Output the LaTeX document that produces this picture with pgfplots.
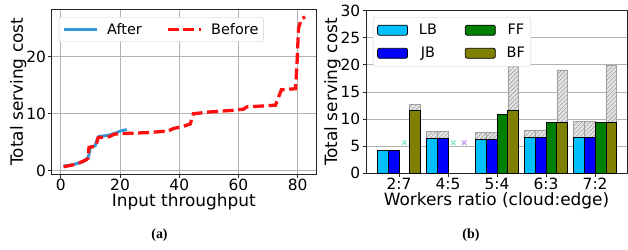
\documentclass[border=0pt]{standalone}
\usepackage{fontspec}
\setmainfont{DejaVu Sans}
\newfontfamily\capfont{Liberation Serif}
\usepackage{pgfplots}
\pgfplotsset{compat=1.18}
\usetikzlibrary{patterns,patterns.meta}
\definecolor{afterblue}{HTML}{3498DB}
\definecolor{beforered}{HTML}{FF1010}
\definecolor{cLB}{HTML}{00BFFF}
\definecolor{cJB}{HTML}{0000FF}
\definecolor{cFF}{HTML}{008000}
\definecolor{cBF}{HTML}{808000}
\definecolor{hatchbg}{HTML}{E4E4E4}
\definecolor{hatchln}{HTML}{A0A0A0}
\definecolor{xgreen}{HTML}{8EEBC0}
\definecolor{xpurple}{HTML}{C29CF0}
\newcommand{\tickfont}{\fontsize{15.5}{18}\selectfont}
\newcommand{\labfont}{\fontsize{17}{20}\selectfont}
\newcommand{\legfont}{\fontsize{14.5}{17}\selectfont}
\pgfplotsset{
  common/.style={
    scale only axis,
    anchor=south west,
    axis line style={black!85, line width=0.8bp},
    tick align=outside,
    tick pos=left,
    major tick length=3.5bp,
    every tick/.style={black!85, line width=0.8bp},
    tick label style={font=\tickfont, inner sep=2bp},
    xticklabel style={inner ysep=1bp},
    label style={font=\labfont, inner sep=0.5bp},
    /pgf/number format/assume math mode=true,
    major grid style={gray!60, line width=0.8bp},
  },
  barlegend/.style={legend image code/.code={\draw[##1,/tikz/.cd] (0bp,-5bp) rectangle (30bp,5bp);}},
  hatchbar/.style={ybar, bar width=0.22, bar shift=#1, fill=hatchbg, draw=hatchln, line width=0.6bp,
     postaction={pattern={Lines[angle=45,distance=3bp,line width=0.6bp]}, pattern color=hatchln}, forget plot},
  colbar/.style 2 args={ybar, bar width=0.22, bar shift=#1, fill=#2, draw=black, line width=0.8bp, barlegend},
}
\begin{document}
\begin{tikzpicture}
\useasboundingbox (0,0) rectangle (628bp,250bp);
% ---------- (a) ----------
\begin{axis}[common,
  at={(51.7bp,76bp)}, width=264.3bp, height=164.5bp,
  xmin=-3.1, xmax=86.2, ymin=-0.58, ymax=28.3,
  xtick={0,20,40,60,80}, ytick={0,10,20},
  grid=major,
  xlabel={Input throughput}, ylabel={Total serving cost},
  xlabel style={at={(axis description cs:0.5,-0.198)}, anchor=base},
  ylabel style={at={(axis description cs:-0.1265,0.5)}, anchor=center},
  legend columns=2,
  legend style={at={(axis description cs:0.0276,0.954)}, anchor=north west,
    draw=black!20, rounded corners=2bp, font=\legfont, inner xsep=3bp, inner ysep=4bp,
    /tikz/every odd column/.append style={column sep=7bp},
    /tikz/every even column/.append style={column sep=22bp}},
  legend image code/.code={\draw[#1] (0bp,0bp) -- (33bp,0bp);},
]
\addplot[color=afterblue, line width=3bp] coordinates {
(0.9,0.8) (3,0.95) (5.4,1.25) (7.6,1.6) (9.0,2.2) (9.4,2.6) (9.9,4.1) (11.6,4.4) (12.2,5.4) (12.8,6.0) (16.1,6.2) (18.4,6.6) (20.6,7.05) (22.3,7.2)
};
\addlegendentry{After}
\addplot[color=beforered, line width=3.3bp, dash pattern=on 11bp off 4.6bp] coordinates {
(0.9,0.7) (3,0.9) (5.5,1.2) (8.5,1.9) (9.2,2.2) (9.5,4.1) (11.8,4.3) (12.6,5.8) (16.5,6.0) (18,6.4) (20,6.5) (30,6.7) (34.5,6.9) (35.5,6.8) (38,7.4) (41.5,7.8) (43.7,8.2) (44.8,10.0) (50,10.3) (58,10.6) (61.7,10.8) (62.8,11.2) (72.5,11.5) (74.5,14.2) (79.3,14.4) (79.8,19) (80.3,25) (81.2,26.6) (82.5,27.0)
};
\addlegendentry{Before}
\end{axis}
% ---------- (b) ----------
\begin{axis}[common,
  at={(366bp,76.7bp)}, width=261bp, height=162.6bp,
  xmin=-0.673, xmax=4.65, ymin=0, ymax=30,
  xtick={0,1,2,3,4}, xticklabels={2:7,4:5,5:4,6:3,7:2},
  ytick={0,5,10,15,20,25,30},
  ymajorgrids,
  xlabel={Workers ratio (cloud:edge)}, ylabel={Total serving cost},
  xlabel style={at={(axis description cs:0.5,-0.2)}, anchor=base},
  ylabel style={at={(axis description cs:-0.129,0.5)}, anchor=center},
  legend columns=2,
  legend style={at={(axis description cs:0.0268,0.961)}, anchor=north west,
    draw=black!20, rounded corners=2bp, font=\legfont, inner xsep=4bp, inner ysep=5bp,
    row sep=7bp,
    /tikz/every odd column/.append style={column sep=9bp},
    /tikz/every even column/.append style={column sep=26bp}},
]
% hatched (total) bars
\addplot[hatchbar=-0.33] coordinates {(1,7.75) (2,7.56) (3,7.99) (4,9.59)};
\addplot[hatchbar=-0.11] coordinates {(1,7.75) (2,7.56) (3,7.99) (4,9.59)};
\addplot[hatchbar=0.33] coordinates {(0,12.73) (2,19.8) (3,19.06) (4,19.93)};
% coloured bars (order for legend: LB, FF, JB, BF)
\addplot[colbar={-0.33}{cLB}] coordinates {(0,4.24) (1,6.38) (2,6.2) (3,6.64) (4,6.64)};
\addlegendentry{LB}
\addplot[colbar={0.11}{cFF}] coordinates {(2,10.94) (3,9.34) (4,9.34)};
\addlegendentry{FF}
\addplot[colbar={-0.11}{cJB}] coordinates {(0,4.24) (1,6.38) (2,6.2) (3,6.64) (4,6.64)};
\addlegendentry{JB}
\addplot[colbar={0.33}{cBF}] coordinates {(0,11.62) (2,11.62) (3,9.34) (4,9.34)};
\addlegendentry{BF}
% missing-result markers
\addplot[only marks, mark=x, mark size=3bp, color=xgreen, line width=1.3bp, forget plot] coordinates {(0.11,5.65) (1.11,5.65)};
\addplot[only marks, mark=x, mark size=3bp, color=xpurple, line width=1.3bp, forget plot] coordinates {(1.33,5.65)};
\end{axis}
\node[font=\capfont\bfseries\fontsize{14}{16}\selectfont] at (159.5bp,15bp) {(a)};
\node[font=\capfont\bfseries\fontsize{14}{16}\selectfont] at (471bp,15bp) {(b)};
\end{tikzpicture}
\end{document}
